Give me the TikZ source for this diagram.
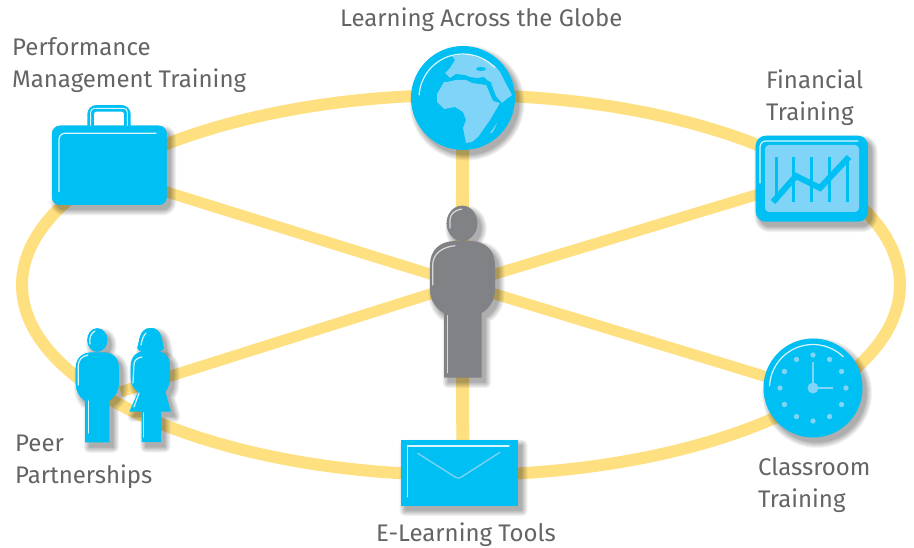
\documentclass[tikz,border=0pt]{standalone}
\usepackage{fontspec}
\setmainfont{Fira Sans}
\usetikzlibrary{shapes.geometric}
\definecolor{cy}{HTML}{00BFF3}
\definecolor{lt}{HTML}{7FD4F7}
\definecolor{gy}{HTML}{808285}
\definecolor{yl}{HTML}{FFE081}
\definecolor{tx}{HTML}{636466}
\newcommand\softicon[2]{%
  \begin{scope}[shift={(4,5)}]
    \foreach \w in {11,9,7,5,3,1,0.1}{%
      \begin{scope}[transparency group,opacity=.05]
        \path[draw=black,fill=black,line width=\w pt,line join=round] #1;
      \end{scope}}
  \end{scope}
  \fill[#2] #1;}
\tikzset{
  spoke/.style={draw=yl,line width=11pt},
  lbl/.style={text=tx,font=\fontsize{24}{32}\selectfont,anchor=base west,inner sep=0pt,align=left},
  anchorpt/.style={inner sep=0pt,minimum size=1pt},
  hl/.style={draw=white,opacity=.85,line width=1.2pt,line cap=round,line join=round},
  ll/.style={draw=lt,line width=1.3pt,line cap=round,line join=round}
}
\begin{document}
\begin{tikzpicture}[x=1pt,y=-1pt]
\useasboundingbox (0,0) rectangle (914,548);
\fill[white] (0,0) rectangle (914,548);
% anchors
\node[anchorpt] (hub) at (462,284) {};
\node[anchorpt] (globe) at (463,98) {};
\node[anchorpt] (brief) at (109,174) {};
\node[anchorpt] (fin) at (812,178) {};
\node[anchorpt] (clock) at (813,391) {};
\node[anchorpt] (peers) at (120,392) {};
\node[anchorpt] (mail) at (463,473) {};
% ring and spokes
\node[ellipse,draw=yl,line width=12pt,minimum width=878pt,minimum height=380pt,inner sep=0pt,outer sep=0pt] (ring) at (461,285) {};
\draw[spoke] (hub) -- (brief);
\draw[spoke] (hub) -- (fin);
\draw[spoke] (hub) -- (clock);
\draw[spoke] (hub) -- (peers);
\draw[spoke,line width=13pt] (hub) -- (globe);
\draw[spoke,line width=13pt] (hub) -- (mail);
% globe
\softicon{(463,98) circle[radius=52pt]}{cy}
\begin{scope}
\clip (463,98) circle[radius=52pt];
\fill[lt] (444,82)--(437,94)--(437,102)--(444,109)--(455,107)--(463,112)--(466,120)--(463,128)--(466,143)--(472,142)--(478,137)--(490,120)--(500,103)--(493,101)--(487,87)--(486,85)--(472,83)--(466,80)--(456,80)--(447,82)--cycle;
\fill[lt] (490,133)--(497,123)--(495,128)--(492,133)--cycle;
\fill[lt] (445,73)--(450,68)--(455,60)--(452,56)--(468,54)--(485,60)--(495,66)--(500,72)--(505,82)--(512,95)--(508,98)--(500,90)--(494,84)--(487,80)--(484,77)--(477,78)--(470,77)--(465,75)--(456,74)--(450,78)--cycle;
\fill[cy] (481,69) ellipse[x radius=5pt,y radius=2pt];
\fill[lt] (491,83)--(500,86)--(510,96)--(502,103)--(496,96)--cycle;
\end{scope}
\draw[hl] plot[domain=44:176,smooth,samples=24] ({463+44*cos(\x)},{98-44*sin(\x)});
% briefcase
\softicon{[rounded corners=8pt] (52,125.7) rectangle (166.7,205)}{cy}
\draw[cy,line width=6.5pt,rounded corners=6pt] (90.6,126) -- (90.6,108.3) -- (127.4,108.3) -- (127.4,126);
\draw[white,opacity=.85,line width=1pt,rounded corners=4pt] (90.6,126) -- (90.6,108.3) -- (127.4,108.3) -- (127.4,126);
\fill[cy,rounded corners=8pt] (52,125.7) rectangle (166.7,205);
\draw[hl,rounded corners=6pt] (59,191.7) -- (59,133.3) -- (156,133.3);
% financial
\softicon{[rounded corners=10pt] (755.7,135.7) rectangle (868,221.7)}{cy}
\fill[lt,rounded corners=4pt] (765,145) rectangle (859,212);
\draw[hl,rounded corners=6pt] (760,183) -- (760,141) -- (858,141);
\foreach \bx in {776,793.7,811.3,829,847}{\draw[cy,line width=3pt] (\bx,157) -- (\bx,202);}
\draw[cy,line width=6pt] (773,202) -- (796,176) -- (820,188) -- (849,157);
% clock
\softicon{(813,388) circle[radius=49.5pt]}{cy}
\draw[hl] plot[domain=46:177,smooth,samples=24] ({813+43.5*cos(\x)},{388-43.5*sin(\x)});
\foreach \a in {0,30,...,330}{\fill[lt] ({813+33*cos(\a)},{388-33*sin(\a)}) circle[radius=2.7pt];}
\draw[lt,line width=2.5pt] (813,361.7) -- (813,388) -- (833,388);
\fill[lt] (813,388) circle[radius=5.5pt];
% envelope
\softicon{(401,440) rectangle (518,505.7)}{cy}
\draw[hl] (407.3,496.7) -- (407.3,446) -- (509,446);
\draw[ll,rounded corners=3pt] (417.7,453.3) -- (458.3,479) -- (500,452.3);
% man
\softicon{(97.3,340) ellipse[x radius=10pt,y radius=11.7pt]}{cy}
\softicon{(85,442.3) -- (85,401) .. controls (79,397) and (75.7,391) .. (75.7,384) -- (75.7,368) .. controls (75.7,358) and (82,352.3) .. (92,352.3) -- (103,352.3) .. controls (113,352.3) and (119,358) .. (119,368) -- (119,384) .. controls (119,391) and (115,397) .. (109.3,401) -- (109.3,442.3) -- cycle}{cy}
\fill[cy] (97.3,340) ellipse[x radius=10pt,y radius=11.7pt];
\draw[hl] (78.3,385) -- (78.3,366) .. controls (78.3,360) and (82,356) .. (88,355);
\draw[hl] (88.3,401) -- (88.3,433);
\draw[hl] (90,344) .. controls (89,338) and (91,333) .. (95,331);
% woman
\softicon{(137.3,348) .. controls (139.5,343) and (138.5,328) .. (150.7,328) .. controls (163,328) and (161.5,343) .. (164,348) .. controls (163,354) and (138,354) .. (137.3,348) -- cycle}{cy}
\softicon{(141.7,442) -- (141.7,411.7) -- (129.3,411.7) -- (138,392) .. controls (133,388) and (130.7,384) .. (130.7,378) -- (130.7,366) .. controls (130.7,356) and (137,351) .. (146,351) -- (155,351) .. controls (164,351) and (170,356) .. (170,366) -- (170,378) .. controls (170,384) and (168,388) .. (165.5,392) -- (171,411.7) -- (161,411.7) -- (161,442) -- cycle}{cy}
\fill[cy] (137.3,348) .. controls (139.5,343) and (138.5,328) .. (150.7,328) .. controls (163,328) and (161.5,343) .. (164,348) .. controls (163,354) and (138,354) .. (137.3,348) -- cycle;
\draw[hl] (133,383) -- (134,364) .. controls (134.5,360) and (137,358) .. (142,357);
\draw[hl] (139,393) -- (134,407);
\draw[hl] (143.7,413) -- (143.7,437);
\draw[hl] (141,345) .. controls (142,340) and (143,336) .. (146,333);
% centre person
\softicon{(462,223.3) ellipse[x radius=15.3pt,y radius=17.5pt]}{gy}
\softicon{(444,377.7) -- (444,313) .. controls (436,309) and (430,300) .. (430,290) -- (430,265) .. controls (430,250) and (440,241) .. (455,241) -- (470,241) .. controls (485,241) and (495,250) .. (495,265) -- (495,290) .. controls (495,300) and (489,309) .. (481.7,313) -- (481.7,377.7) -- cycle}{gy}
\fill[gy] (462,223.3) ellipse[x radius=15.3pt,y radius=17.5pt];
\draw[hl,opacity=.7] (432.7,285) -- (432.7,265) .. controls (432.7,254) and (442,247) .. (455,245.7);
\draw[hl,opacity=.7] (447.3,315.7) -- (447.3,372.7);
\draw[hl,opacity=.7] (450,228) -- (450,220) .. controls (450,214) and (455,210) .. (461.7,209);
% labels
\node[lbl] (tglobe) at (340,27) {Learning Across the Globe};
\node[lbl] (tperf) at (12,88) {Performance\\Management Training};
\node[lbl] (tfin) at (766,121) {Financial\\Training};
\node[lbl] (tpeer) at (15,483) {Peer\\Partnerships};
\node[lbl] (tclass) at (758,507) {Classroom\\Training};
\node[lbl] (tmail) at (376,541) {E-Learning Tools};
\end{tikzpicture}
\end{document}
